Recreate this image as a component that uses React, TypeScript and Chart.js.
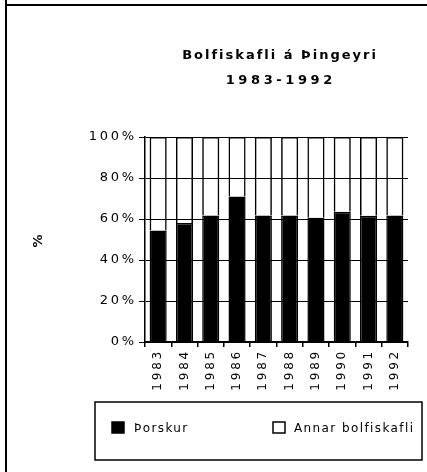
import React, { useEffect, useRef } from "react";
import { Chart, registerables } from "chart.js";

Chart.register(...registerables);

const years = ["1983", "1984", "1985", "1986", "1987", "1988", "1989", "1990", "1991", "1992"];
const thorskur = [54.4, 58.0, 61.7, 71.0, 61.7, 61.7, 60.6, 63.5, 61.6, 61.7];
const annar = [45.6, 42.0, 38.3, 29.0, 38.3, 38.3, 39.4, 36.5, 38.4, 38.3];
const seriesLabels = ["Þorskur", "Annar bolfiskafli"];
const titleLines = ["Bolfiskafli á Þingeyri", "1983-1992"];
const yAxisTitle = "%";
const yMax = 100;
const yStep = 20;

const FONT = '"DejaVu Sans", Verdana, sans-serif';
const W = 427;
const H = 472;

const spacingPlugin = {
  id: "spacing",
  beforeDraw(chart: any) {
    const ctx = chart.ctx;
    ctx.save();
    ctx.fillStyle = "#ffffff";
    ctx.fillRect(0, 0, W, H);
    ctx.restore();
    ctx.letterSpacing = "2.8px";
  },
};

const decorPlugin = {
  id: "decor",
  afterDraw(chart: any) {
    const ctx = chart.ctx as CanvasRenderingContext2D & { letterSpacing: string };
    const area = chart.chartArea;
    ctx.save();
    ctx.letterSpacing = "0px";
    // outer frame (left and top only)
    ctx.strokeStyle = "#000";
    ctx.lineWidth = 2;
    ctx.beginPath();
    ctx.moveTo(6, 0);
    ctx.lineTo(6, H);
    ctx.moveTo(5, 5);
    ctx.lineTo(W, 5);
    ctx.stroke();

    // title
    const cx = (area.left + area.right) / 2 + 2.5;
    ctx.fillStyle = "#000";
    ctx.textAlign = "center";
    ctx.textBaseline = "middle";
    ctx.font = `bold 13px ${FONT}`;
    ctx.letterSpacing = "2px";
    ctx.fillText(titleLines[0], cx + 1, 56);
    ctx.letterSpacing = "3.6px";
    ctx.fillText(titleLines[1], cx + 1.8, 81);

    // legend box
    ctx.letterSpacing = "0px";
    ctx.lineWidth = 1.5;
    ctx.strokeRect(95, 402, 327, 58);
    const ds = chart.data.datasets;
    const items = [
      { x: 112, tx: 134 },
      { x: 273, tx: 294 },
    ];
    ctx.font = `12px ${FONT}`;
    ctx.textAlign = "left";
    items.forEach((it, i) => {
      const d = ds[i];
      ctx.fillStyle = i === 0 ? (d.backgroundColor as string) : "#ffffff";
      ctx.fillRect(it.x, 422, 12, 11);
      ctx.strokeStyle = d.borderColor as string;
      ctx.lineWidth = 1.5;
      ctx.strokeRect(it.x, 422, 12, 11);
      ctx.fillStyle = "#000";
      ctx.letterSpacing = "1.4px";
      ctx.fillText(d.label as string, it.tx, 428.5);
      ctx.letterSpacing = "0px";
    });
    ctx.restore();
  },
};

export default function App() {
  const ref = useRef<HTMLCanvasElement | null>(null);

  useEffect(() => {
    if (!ref.current) return;
    Chart.defaults.font.family = FONT;
    Chart.defaults.color = "#000";
    const chart = new Chart(ref.current, {
      type: "bar",
      data: {
        labels: years,
        datasets: [
          {
            label: seriesLabels[0],
            data: thorskur,
            backgroundColor: "#000000",
            borderColor: "#000000",
            borderWidth: 1.5,
            barPercentage: 0.65,
            categoryPercentage: 1,
          },
          {
            label: seriesLabels[1],
            data: annar,
            backgroundColor: "rgba(255,255,255,0)",
            borderColor: "#000000",
            borderWidth: 1.5,
            barPercentage: 0.65,
            categoryPercentage: 1,
          },
        ],
      },
      options: {
        animation: false,
        responsive: false,
        devicePixelRatio: 1,
        layout: { padding: { top: 137, right: 19, left: 0, bottom: 0 } },
        plugins: {
          legend: { display: false },
          title: { display: false },
          tooltip: { enabled: false },
        },
        scales: {
          x: {
            stacked: true,
            afterFit(scale: any) {
              scale.height = 130;
            },
            grid: {
              display: true,
              offset: true,
              drawOnChartArea: false,
              drawTicks: true,
              tickLength: 5,
              color: "#000",
              lineWidth: 1.5,
            },
            border: { display: true, color: "#000", width: 1.5 },
            ticks: {
              autoSkip: false,
              minRotation: 90,
              maxRotation: 90,
              padding: 2,
              color: "#000",
              font: { size: 12, family: FONT },
            },
          },
          y: {
            stacked: true,
            min: 0,
            max: yMax,
            afterFit(scale: any) {
              scale.width = 145;
            },
            grid: {
              color: "#000",
              lineWidth: 1,
              tickLength: 6,
            },
            border: { display: true, color: "#000", width: 1.5 },
            ticks: {
              stepSize: yStep,
              padding: 2,
              color: "#000",
              font: { size: 13, family: FONT },
              callback: (v: any) => `${v}%`,
            },
            title: {
              display: true,
              text: yAxisTitle,
              color: "#000",
              font: { size: 13, weight: "bold", family: FONT },
              padding: { top: 31, bottom: 0 },
            },
          },
        },
      },
      plugins: [spacingPlugin, decorPlugin],
    });
    return () => chart.destroy();
  }, []);

  return (
    <div style={{ position: "fixed", left: 0, top: 0, width: W, height: H, background: "#fff" }}>
      <canvas ref={ref} width={W} height={H} style={{ width: W, height: H, display: "block" }} />
    </div>
  );
}
